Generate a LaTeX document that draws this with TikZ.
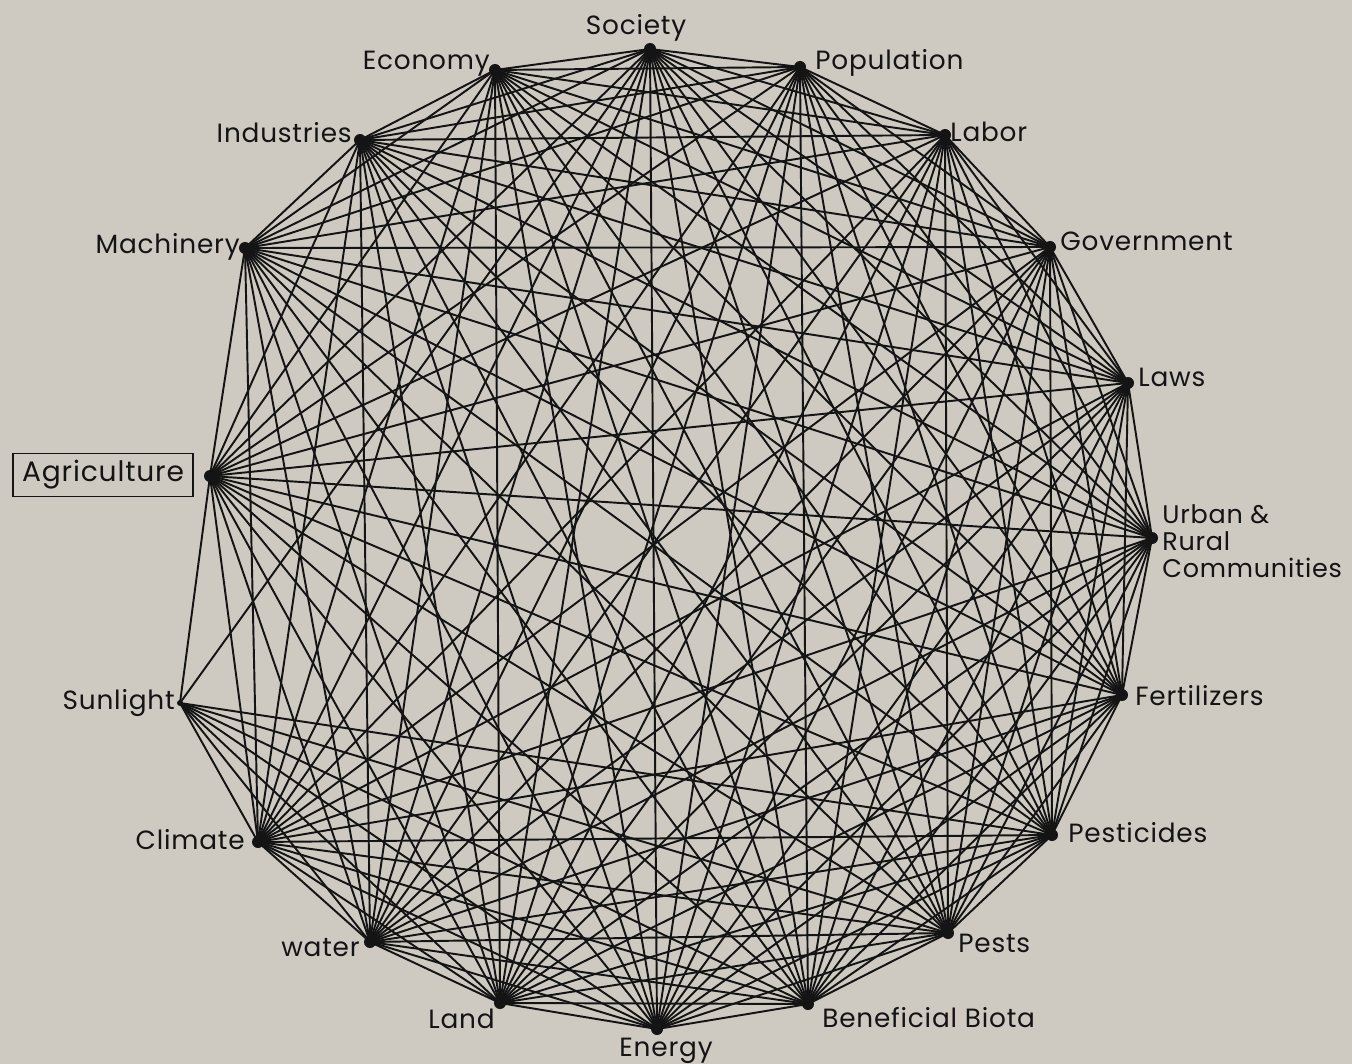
\documentclass[tikz,border=0pt]{standalone}
\usepackage{fontspec}
\setmainfont{Poppins}[LetterSpace=3]
\definecolor{bg}{RGB}{206,201,193}
\definecolor{ink}{RGB}{20,20,20}
\begin{document}
\begin{tikzpicture}[x=0.02cm,y=-0.02cm,
  edge/.style={draw=ink,line width=1.1pt},
  lbl/.style={font=\fontsize{15pt}{15.4pt}\selectfont,text=ink,inner sep=0pt},
  blob/.style={fill=ink,draw=none}]
\fill[bg] (0,0) rectangle (1352,1064);
\useasboundingbox (0,0) rectangle (1352,1064);
% vertices
\coordinate (v1) at (650,49);
\coordinate (v2) at (800,67);
\coordinate (v3) at (945,135);
\coordinate (v4) at (1050,247);
\coordinate (v5) at (1128,383);
\coordinate (v6) at (1152,538);
\coordinate (v7) at (1122,695);
\coordinate (v8) at (1052,835);
\coordinate (v9) at (948,933);
\coordinate (v10) at (808,1004);
\coordinate (v11) at (657,1029);
\coordinate (v12) at (500,1003);
\coordinate (v13) at (370,942);
\coordinate (v14) at (258,842);
\coordinate (v15) at (180,703);
\coordinate (v16) at (210,476);
\coordinate (v17) at (245,248);
\coordinate (v18) at (360,140);
\coordinate (v19) at (495,70);
% edges
\foreach \i in {1,...,18}{
  \pgfmathtruncatemacro\ii{\i+1}
  \foreach \j in {\ii,...,19}{
    \ifnum\i=15\relax\else\ifnum\j=15\relax\else
      \draw[edge] (v\i) -- (v\j);
    \fi\fi
  }
}
\foreach \k in {16,1,8,9,10,11,12,13,14}{
  \draw[edge] (v15) -- (v\k);
}
% blobs
\foreach \k in {1,...,14,16,17,18,19}{
  \fill[blob] (v\k) circle (6);
}
\fill[blob] (v15) circle (3);
% labels
\node[lbl] (tSociety) at (636,28) {Society};
\node[lbl,anchor=east] (tEconomy) at (490,64) {Economy};
\node[lbl,anchor=west] (tPopulation) at (815,63) {Population};
\node[lbl,anchor=west] (tLabor) at (950,132) {Labor};
\node[lbl,anchor=east] (tIndustries) at (352,133) {Industries};
\node[lbl,anchor=west] (tGovernment) at (1060,241) {Government};
\node[lbl,anchor=east] (tMachinery) at (240,247) {Machinery};
\node[lbl,anchor=west] (tLaws) at (1138,377) {Laws};
\node[lbl,anchor=west,align=left,font=\fontsize{14.5pt}{15.4pt}\selectfont] (tUrban) at (1162,541) {Urban \&\\Rural\\Communities};
\node[lbl,draw=ink,line width=1.1pt,inner xsep=5pt,inner ysep=4pt,font=\fontsize{16pt}{16pt}\selectfont] (tAgri) at (103,475) {Agriculture};
\node[lbl,anchor=west] (tFert) at (1135,696) {Fertilizers};
\node[lbl,anchor=east] (tSun) at (175,703) {Sunlight};
\node[lbl,anchor=west] (tPesticides) at (1068,833) {Pesticides};
\node[lbl,anchor=east] (tClimate) at (245,840) {Climate};
\node[lbl,anchor=west] (tPests) at (958,943) {Pests};
\node[lbl,anchor=east] (tWater) at (360,948) {water};
\node[lbl,anchor=west] (tBiota) at (822,1018) {Beneficial Biota};
\node[lbl,anchor=east] (tLand) at (495,1019) {Land};
\node[lbl] (tEnergy) at (666,1051) {Energy};
\end{tikzpicture}
\end{document}
